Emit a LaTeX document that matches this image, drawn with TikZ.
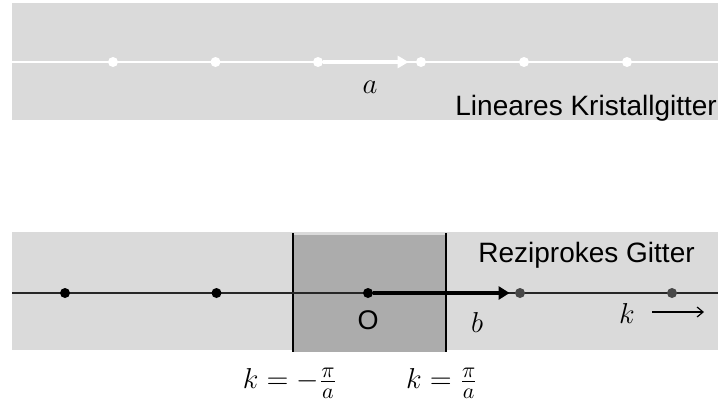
\documentclass[tikz,border=0pt]{standalone}
\usepackage{fontspec}
\setsansfont{Liberation Sans}
\definecolor{bandgray}{RGB}{218,218,218}
\definecolor{zonegray}{RGB}{172,172,172}
\definecolor{dotgray}{RGB}{72,72,72}
\usetikzlibrary{arrows.meta}

\begin{document}
\begin{tikzpicture}[x=0.5pt,y=-0.5pt,
  lbl/.style={font=\fontsize{14}{16}\selectfont\sffamily,anchor=base west,inner sep=0pt},
  mlbl/.style={font=\fontsize{14}{16}\selectfont,inner sep=0pt},
  wdot/.style={circle,fill=white,minimum size=5pt,inner sep=0pt},
  bdot/.style={circle,fill=black,minimum size=5pt,inner sep=0pt}]
  \useasboundingbox (0,0) rectangle (718,403);
  \fill[bandgray] (12,3) rectangle (718,120);
  \fill[bandgray] (12,232) rectangle (718,350);
  \fill[zonegray] (293,235) rectangle (446,352);
  \coordinate (zl0) at (293,233); \coordinate (zl1) at (293,352);
  \coordinate (zr0) at (446,233); \coordinate (zr1) at (446,352);
  \draw[line width=1.1pt] (zl0) -- (zl1);
  \draw[line width=1.1pt] (zr0) -- (zr1);
  \coordinate (t0) at (12,62); \coordinate (t1) at (718,62);
  \draw[white,line width=1pt] (t0) -- (t1);
  \foreach \i/\x in {1/113,2/215.5,3/318,4/421,5/524,6/627}
    \node[wdot] (a\i) at (\x,62) {};
  \draw[white,line width=1.8pt,-{Triangle[length=5.5pt,width=6pt]},shorten >=3.5pt] (a3) -- (a4);
  \coordinate (r0) at (12,293); \coordinate (r1) at (718,293);
  \draw[black!85,line width=1.2pt] (r0) -- (r1);
  \foreach \i/\x in {1/65,2/216.5,3/368}
    \node[bdot] (g\i) at (\x,293) {};
  \foreach \i/\x in {4/520,5/672}
    \node[bdot,fill=dotgray] (g\i) at (\x,293) {};
  \draw[line width=2.2pt,-{Triangle[length=5.5pt,width=6.5pt]},shorten >=2.5pt] (g3) -- (g4);
  \node[mlbl] (alab) at (370,87) {$a$};
  \node[lbl] (kristall) at (455,115) {Lineares Kristallgitter};
  \node[lbl] (rezi) at (478,262) {Reziprokes Gitter};
  \node[lbl,anchor=center,font=\fontsize{13.5}{15}\selectfont\sffamily] (orig) at (368,320) {O};
  \node[mlbl] (blab) at (477,322) {$b$};
  \node[mlbl] (klab) at (627,313) {$k$};
  \coordinate (ks) at (652,312); \coordinate (ke) at (704,312);
  \draw[line width=0.6pt,-{Straight Barb[length=3pt,width=5pt]}] (ks) -- (ke);
  \node[mlbl,font=\fontsize{15}{17}\selectfont] (kmin) at (290,383) {$k = -\frac{\pi}{a}$};
  \node[mlbl,font=\fontsize{15}{17}\selectfont] (kmax) at (442,383) {$k = \frac{\pi}{a}$};
\end{tikzpicture}
\end{document}
